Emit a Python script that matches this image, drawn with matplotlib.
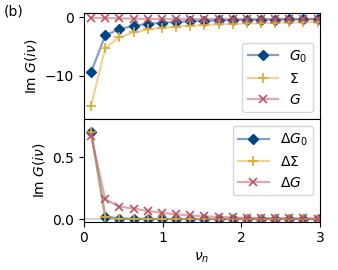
import matplotlib
matplotlib.use('Agg')
import matplotlib.pyplot as plt

# --- dados ---
nu = [0.09, 0.27, 0.45, 0.63, 0.81, 0.99, 1.17, 1.35, 1.53, 1.71,
      1.89, 2.07, 2.25, 2.43, 2.61, 2.79, 2.97]

im_G0 = [-9.4, -3.1, -2.05, -1.45, -1.15, -0.95, -0.8, -0.7, -0.62, -0.55,
         -0.5, -0.46, -0.42, -0.4, -0.37, -0.35, -0.33]
im_Sigma = [-15.1, -5.3, -3.4, -2.6, -2.1, -1.8, -1.6, -1.45, -1.32, -1.22,
            -1.12, -1.05, -1.0, -0.95, -0.9, -0.85, -0.8]
im_G = [-0.1, -0.15, -0.2, -0.25, -0.28, -0.3, -0.3, -0.3, -0.3, -0.3,
        -0.3, -0.3, -0.3, -0.3, -0.3, -0.3, -0.3]

d_G0 = [0.705, 0.02, 0.004, 0.002, 0.001, 0.0, 0.0, 0.0, 0.0, 0.0,
        0.0, 0.0, 0.0, 0.0, 0.0, 0.0, 0.0]
d_Sigma = [0.705, 0.02, 0.004, 0.002, 0.001, 0.0, 0.0, 0.0, 0.0, 0.0,
           0.0, 0.0, 0.0, 0.0, 0.0, 0.0, 0.0]
d_G = [0.675, 0.16, 0.10, 0.085, 0.065, 0.05, 0.038, 0.03, 0.022, 0.017,
       0.013, 0.01, 0.008, 0.007, 0.006, 0.005, 0.004]

AZUL = '#004488'
AMARELO = '#DDAA33'
VERMELHO = '#BB5566'


def rgba(cor, a):
    c = matplotlib.colors.to_rgba(cor)
    return (c[0], c[1], c[2], a)


estilos = [
    dict(color=rgba(AZUL, 0.5), marker='D', markersize=5.5,
         markerfacecolor=AZUL, markeredgecolor=AZUL),
    dict(color=rgba(AMARELO, 0.5), marker='+', markersize=6.5, markeredgewidth=1.2,
         markerfacecolor=AMARELO, markeredgecolor=AMARELO),
    dict(color=rgba(VERMELHO, 0.5), marker='x', markersize=5.5, markeredgewidth=1.2,
         markerfacecolor=VERMELHO, markeredgecolor=VERMELHO),
]

fig = plt.figure(figsize=(3.38, 2.7), dpi=100)
ax1 = fig.add_axes([84 / 338, 1 - 119 / 270, 236 / 338, 106 / 270])
ax2 = fig.add_axes([84 / 338, 1 - 221.5 / 270, 236 / 338, 102.5 / 270], sharex=ax1)

for serie, rot, est in zip([im_G0, im_Sigma, im_G],
                           [r'$G_0$', r'$\Sigma$', r'$G$'], estilos):
    ax1.plot(nu, serie, linewidth=1.6, label=rot, **est)

ax2.axhline(0, color='lightgray', linewidth=1.5, zorder=0)
for serie, rot, est in zip([d_G0, d_Sigma, d_G],
                           [r'$\Delta G_0$', r'$\Delta\Sigma$', r'$\Delta G$'], estilos):
    ax2.plot(nu, serie, linewidth=1.6, label=rot, **est)

ax1.set_xlim(0, 3)
ax1.set_ylim(-17.4, 0.72)
ax1.set_yticks([0, -10])
ax2.set_ylim(-0.02, 0.81)
ax2.set_yticks([0.0, 0.5])
ax2.set_xticks([0, 1, 2, 3])
ax1.tick_params(labelbottom=False)

ax1.set_ylabel(r'Im $G(i\nu)$')
ax2.set_ylabel(r'Im $G(i\nu)$')
ax2.set_xlabel(r'$\nu_n$')

ax1.legend(loc='lower right', handlelength=2.2)
ax2.legend(loc='upper right', handlelength=2.2)

fig.text(0.01, 0.985, '(b)', ha='left', va='top', fontsize=10)

fig.savefig('out.png', dpi=100)
